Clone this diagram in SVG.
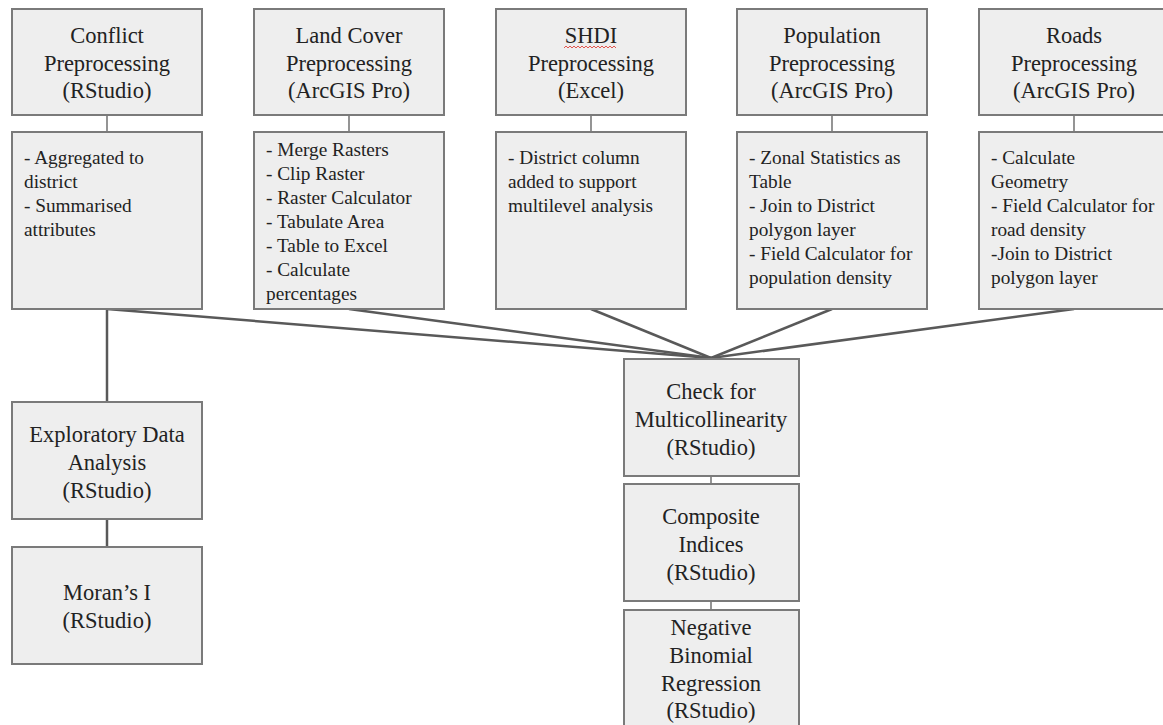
<svg xmlns="http://www.w3.org/2000/svg" width="1163" height="725" viewBox="0 0 1163 725">
<style>
.box{fill:#eeeeee;stroke:#7a7a7a;stroke-width:2}
.t{font-family:"Liberation Serif","Times New Roman",serif;font-size:22.5px;fill:#222;text-anchor:middle}
.s{font-family:"Liberation Serif","Times New Roman",serif;font-size:19.3px;fill:#222}
.thin{stroke:#7a7a7a;stroke-width:1.6;fill:none}
.main{stroke:#595959;stroke-width:2.5;fill:none}
</style>
<rect width="1163" height="725" fill="#ffffff"/>
<g id="connectors">
<line class="thin" x1="107" y1="115" x2="107" y2="132"/>
<line class="thin" x1="349" y1="115" x2="349" y2="132"/>
<line class="thin" x1="591" y1="115" x2="591" y2="132"/>
<line class="thin" x1="832" y1="115" x2="832" y2="132"/>
<line class="thin" x1="1074" y1="115" x2="1074" y2="132"/>
<line class="main" x1="107" y1="309" x2="711" y2="358"/>
<line class="main" x1="349" y1="309" x2="711" y2="358"/>
<line class="main" x1="591" y1="309" x2="711" y2="358"/>
<line class="main" x1="832" y1="309" x2="711" y2="358"/>
<line class="main" x1="1074" y1="309" x2="711" y2="358"/>
<line class="main" x1="107" y1="309" x2="107" y2="402"/>
<line class="main" x1="107" y1="519" x2="107" y2="547"/>
<line class="thin" x1="711" y1="476" x2="711" y2="484"/>
<line class="thin" x1="711" y1="601" x2="711" y2="610"/>
</g>
<g id="conflict">
<rect class="box" x="12" y="9" width="190" height="106"/>
<text class="t" x="107" y="43">Conflict</text>
<text class="t" x="107" y="71">Preprocessing</text>
<text class="t" x="107" y="98">(RStudio)</text>
</g>
<g id="conflict-steps">
<rect class="box" x="12" y="132" width="190" height="177"/>
<text class="s" x="24" y="164">- Aggregated to</text>
<text class="s" x="24" y="188">district</text>
<text class="s" x="24" y="212">- Summarised</text>
<text class="s" x="24" y="236">attributes</text>
</g>
<g id="landcover">
<rect class="box" x="254" y="9" width="190" height="106"/>
<text class="t" x="349" y="43">Land Cover</text>
<text class="t" x="349" y="71">Preprocessing</text>
<text class="t" x="349" y="98">(ArcGIS Pro)</text>
</g>
<g id="landcover-steps">
<rect class="box" x="254" y="132" width="190" height="177"/>
<text class="s" x="266" y="156">- Merge Rasters</text>
<text class="s" x="266" y="180">- Clip Raster</text>
<text class="s" x="266" y="204">- Raster Calculator</text>
<text class="s" x="266" y="228">- Tabulate Area</text>
<text class="s" x="266" y="252">- Table to Excel</text>
<text class="s" x="266" y="276">- Calculate</text>
<text class="s" x="266" y="300">percentages</text>
</g>
<g id="shdi">
<rect class="box" x="496" y="9" width="190" height="106"/>
<text class="t" x="591" y="43">SHDI</text>
<path d="M564 48 l2 -2 l2 2 l2 -2 l2 2 l2 -2 l2 2 l2 -2 l2 2 l2 -2 l2 2 l2 -2 l2 2 l2 -2 l2 2 l2 -2 l2 2 l2 -2 l2 2 l2 -2 l2 2 l2 -2 l2 2 l2 -2 l2 2 l2 -2 l2 2" fill="none" stroke="#e0443c" stroke-width="0.9"/>
<text class="t" x="591" y="71">Preprocessing</text>
<text class="t" x="591" y="98">(Excel)</text>
</g>
<g id="shdi-steps">
<rect class="box" x="496" y="132" width="190" height="177"/>
<text class="s" x="508" y="164">- District column</text>
<text class="s" x="508" y="188">added to support</text>
<text class="s" x="508" y="212">multilevel analysis</text>
</g>
<g id="population">
<rect class="box" x="737" y="9" width="190" height="106"/>
<text class="t" x="832" y="43">Population</text>
<text class="t" x="832" y="71">Preprocessing</text>
<text class="t" x="832" y="98">(ArcGIS Pro)</text>
</g>
<g id="population-steps">
<rect class="box" x="737" y="132" width="190" height="177"/>
<text class="s" x="749" y="164">- Zonal Statistics as</text>
<text class="s" x="749" y="188">Table</text>
<text class="s" x="749" y="212">- Join to District</text>
<text class="s" x="749" y="236">polygon layer</text>
<text class="s" x="749" y="260">- Field Calculator for</text>
<text class="s" x="749" y="284">population density</text>
</g>
<g id="roads">
<rect class="box" x="979" y="9" width="190" height="106"/>
<text class="t" x="1074" y="43">Roads</text>
<text class="t" x="1074" y="71">Preprocessing</text>
<text class="t" x="1074" y="98">(ArcGIS Pro)</text>
</g>
<g id="roads-steps">
<rect class="box" x="979" y="132" width="190" height="177"/>
<text class="s" x="991" y="164">- Calculate</text>
<text class="s" x="991" y="188">Geometry</text>
<text class="s" x="991" y="212">- Field Calculator for</text>
<text class="s" x="991" y="236">road density</text>
<text class="s" x="991" y="260">-Join to District</text>
<text class="s" x="991" y="284">polygon layer</text>
</g>
<g id="eda">
<rect class="box" x="12" y="402" width="190" height="117"/>
<text class="t" x="107" y="442">Exploratory Data</text>
<text class="t" x="107" y="470">Analysis</text>
<text class="t" x="107" y="498">(RStudio)</text>
</g>
<g id="morans">
<rect class="box" x="12" y="547" width="190" height="117"/>
<text class="t" x="107" y="600">Moran’s I</text>
<text class="t" x="107" y="628">(RStudio)</text>
</g>
<g id="multicollinearity">
<rect class="box" x="624" y="359" width="175" height="117"/>
<text class="t" x="711" y="399">Check for</text>
<text class="t" x="711" y="427">Multicollinearity</text>
<text class="t" x="711" y="455">(RStudio)</text>
</g>
<g id="composite">
<rect class="box" x="624" y="484" width="175" height="117"/>
<text class="t" x="711" y="524">Composite</text>
<text class="t" x="711" y="552">Indices</text>
<text class="t" x="711" y="580">(RStudio)</text>
</g>
<g id="negbin">
<rect class="box" x="624" y="610" width="175" height="125"/>
<text class="t" x="711" y="635">Negative</text>
<text class="t" x="711" y="663">Binomial</text>
<text class="t" x="711" y="691">Regression</text>
<text class="t" x="711" y="718">(RStudio)</text>
</g>
</svg>
